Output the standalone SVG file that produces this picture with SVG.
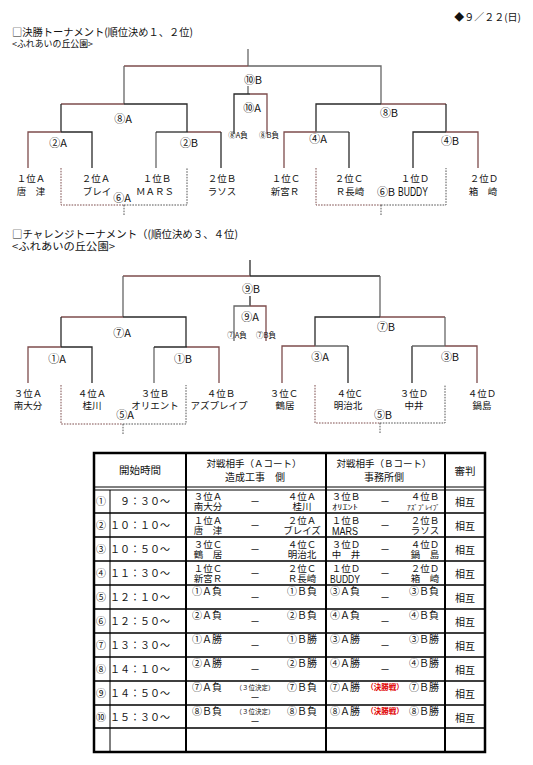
<svg xmlns="http://www.w3.org/2000/svg" width="533" height="765" viewBox="0 0 533 765">
<style>
text{font-family:"Noto Sans CJK JP","Noto Sans",sans-serif;fill:#111}
.m{text-anchor:middle}
.e{text-anchor:end}
.f10{font-size:10px}
.f9{font-size:9.5px}
.f11{font-size:10.5px}
.lb{font-size:11px}
.sm{font-size:7.5px}
.xs{font-size:6.5px}
.nar{font-family:"Liberation Sans Narrow","Liberation Sans",sans-serif}
.br{stroke:#7d4c4c;stroke-width:1.3;fill:none}
.dk{stroke:#2a2a2a;stroke-width:1.3;fill:none}
.gr{stroke:#666;stroke-width:1.3;fill:none}
.dbr{stroke:#7d4c4c;stroke-width:1;stroke-dasharray:1.6 1.2;fill:none}
.dgr{stroke:#555;stroke-width:1;stroke-dasharray:1.6 1.2;fill:none}
.tb{stroke:#000;fill:none}
.red{fill:#e00000;font-weight:bold}
</style>

<g id="header">
<text x="521" y="21" class="f10 e">◆９／２２(日)</text>
<text x="12" y="36" font-size="10.5" textLength="181" lengthAdjust="spacingAndGlyphs">□決勝トーナメント(順位決め１、２位)</text>
<text x="12" y="47" font-size="9" textLength="81" lengthAdjust="spacingAndGlyphs">&lt;ふれあいの丘公園&gt;</text>
<text x="12" y="238" font-size="10.5" textLength="226" lengthAdjust="spacingAndGlyphs">□チャレンジトーナメント（(順位決め３、４位)</text>
<text x="12" y="250" font-size="10.5" textLength="103" lengthAdjust="spacingAndGlyphs">&lt;ふれあいの丘公園&gt;</text>
</g>

<g id="connectors">
<!-- bracket 1 -->
<path class="gr" d="M248 49V66"/>
<path class="br" d="M124 66H248"/>
<path class="gr" d="M248 66H381V104M124 66V104"/>
<path class="gr" d="M248 86V94"/>
<path class="dk" d="M234 134V94H250"/>
<path class="br" d="M250 94H267V134"/>
<path class="br" d="M61 104H124"/>
<path class="dk" d="M124 104H187V132M61 104V132"/>
<path class="br" d="M28 168V132H61"/>
<path class="dk" d="M61 132H92V168"/>
<path class="gr" d="M156 168V132"/>
<path class="dk" d="M156 132H188"/>
<path class="br" d="M188 132H221"/>
<path class="dk" d="M221 132V168"/>
<path class="dk" d="M316 132V104H381"/>
<path class="br" d="M381 104H446"/>
<path class="dk" d="M446 104V132"/>
<path class="br" d="M284 168V132H316"/>
<path class="gr" d="M316 132H349"/>
<path class="dk" d="M349 132V168"/>
<path class="dk" d="M413 168V132H446"/>
<path class="br" d="M446 132H478V168"/>
<path class="dbr" d="M61 168V205H124"/>
<path class="dgr" d="M124 205H187V168M124 205V215"/>
<path class="dbr" d="M316 168V205H381"/>
<path class="dgr" d="M381 205H446V168M381 205V215"/>
<!-- bracket 2 -->
<path class="dk" d="M250 260V276"/>
<path class="br" d="M123 276H250"/>
<path class="dk" d="M250 276H380"/>
<path class="gr" d="M123 276V317M380 276V317"/>
<path class="dk" d="M250 296V306"/>
<path class="gr" d="M234 341V306H250"/>
<path class="br" d="M250 306H266V341"/>
<path class="br" d="M61 317H123"/>
<path class="dk" d="M123 317H186V347M61 317V347"/>
<path class="br" d="M28 383V347H61"/>
<path class="dk" d="M61 347H92V383"/>
<path class="gr" d="M154 383V347"/>
<path class="dk" d="M154 347H187"/>
<path class="br" d="M187 347H219V383"/>
<path class="dk" d="M315 346V317H380"/>
<path class="br" d="M380 317H445"/>
<path class="gr" d="M445 317V346"/>
<path class="br" d="M282 383V346H315"/>
<path class="gr" d="M315 346H348"/>
<path class="dk" d="M348 346V383"/>
<path class="dk" d="M412 383V346"/>
<path class="gr" d="M412 346H445"/>
<path class="br" d="M445 346H477V383"/>
<path class="dbr" d="M61 385V424H123"/>
<path class="dgr" d="M123 424H186V385M123 424V435"/>
<path class="dbr" d="M315 385V423H380"/>
<path class="dgr" d="M380 423H445V385M380 423V434"/>
</g>

<!-- bracket 1 labels -->
<g id="m10B"><text x="253" y="83.5" class="lb m">⑩B</text></g>
<g id="m10A"><text x="252" y="111.5" class="lb m">⑩A</text></g>
<g id="m10A-src"><text x="238" y="138" class="sm m">⑧A負</text></g>
<g id="m10A-src2"><text x="269" y="138" class="sm m">⑧B負</text></g>
<g id="m8A"><text x="123" y="122.5" class="lb m">⑧A</text></g>
<g id="m8B"><text x="389" y="116.5" class="lb m">⑧B</text></g>
<g id="m2A"><text x="58" y="146.5" class="lb m">②A</text></g>
<g id="m2B"><text x="189" y="146.5" class="lb m">②B</text></g>
<g id="m4A"><text x="318" y="142.5" class="lb m">④A</text></g>
<g id="m4B"><text x="450" y="145" class="lb m">④B</text></g>
<g id="m6A"><text x="122" y="202" class="lb m">⑥A</text></g>
<g id="m6B"><text x="386" y="196" class="lb m">⑥B</text></g>
<g id="t1A"><text x="31" y="182" class="f9 m">１位Ａ</text><text x="31" y="195" class="f9 m">唐　津</text></g>
<g id="t2A"><text x="96" y="182" class="f9 m">２位Ａ</text><text x="97" y="195" class="f9 m">ブレイ</text></g>
<g id="t1B"><text x="157" y="182" class="f9 m">１位Ｂ</text><text x="155" y="195" class="f9 m">ＭＡＲＳ</text></g>
<g id="t2B"><text x="222" y="182" class="f9 m">２位Ｂ</text><text x="222" y="195" class="f9 m">ラソス</text></g>
<g id="t1C"><text x="286" y="182" class="f9 m">１位Ｃ</text><text x="285" y="195" class="f9 m">新宮Ｒ</text></g>
<g id="t2C"><text x="349" y="182" class="f9 m">２位Ｃ</text><text x="350" y="195" class="f9 m">Ｒ長崎</text></g>
<g id="t1D"><text x="415" y="182" class="f9 m">１位Ｄ</text><text x="398" y="196" font-size="12" class="nar" textLength="30" lengthAdjust="spacingAndGlyphs">BUDDY</text></g>
<g id="t2D"><text x="484" y="182" class="f9 m">２位Ｄ</text><text x="483" y="195" class="f9 m">箱　崎</text></g>

<!-- bracket 2 labels -->
<g id="m9B"><text x="251" y="292.5" class="lb m">⑨B</text></g>
<g id="m9A"><text x="250" y="321" class="lb m">⑨A</text></g>
<g id="m9A-src"><text x="237" y="337.5" class="sm m">⑦A負</text></g>
<g id="m9A-src2"><text x="266" y="337.5" class="sm m">⑦B負</text></g>
<g id="m7A"><text x="122" y="337" class="lb m">⑦A</text></g>
<g id="m7B"><text x="386" y="331" class="lb m">⑦B</text></g>
<g id="m1A"><text x="57" y="363" class="lb m">①A</text></g>
<g id="m1B"><text x="183" y="363" class="lb m">①B</text></g>
<g id="m3A"><text x="320" y="361" class="lb m">③A</text></g>
<g id="m3B"><text x="450" y="361" class="lb m">③B</text></g>
<g id="m5A"><text x="125" y="419" class="lb m">⑤A</text></g>
<g id="m5B"><text x="383" y="418.5" class="lb m">⑤B</text></g>
<g id="t3A"><text x="28" y="396.5" class="f9 m">３位Ａ</text><text x="28" y="408.5" class="f9 m">南大分</text></g>
<g id="t4A"><text x="92" y="396.5" class="f9 m">４位Ａ</text><text x="92" y="408.5" class="f9 m">桂川</text></g>
<g id="t3B"><text x="155" y="396.5" class="f9 m">３位Ｂ</text><text x="155" y="408.5" class="f9 m">オリエント</text></g>
<g id="t4B"><text x="221" y="396.5" class="f9 m">４位Ｂ</text><text x="219" y="408.5" class="f9 m">アズプレイプ</text></g>
<g id="t3C"><text x="284" y="396.5" class="f9 m">３位Ｃ</text><text x="285" y="408.5" class="f9 m">鶴居</text></g>
<g id="t4C"><text x="349" y="396.5" class="f9 m">４位C</text><text x="348" y="408.5" class="f9 m">明治北</text></g>
<g id="t3D"><text x="414" y="396.5" class="f9 m">３位Ｄ</text><text x="414" y="408.5" class="f9 m">中井</text></g>
<g id="t4D"><text x="482" y="396.5" class="f9 m">４位Ｄ</text><text x="482" y="408.5" class="f9 m">鍋島</text></g>

<!-- schedule table -->
<g id="table">
<rect x="94" y="453" width="391" height="299" class="tb" stroke-width="2.5"/>
<path class="tb" stroke-width="1" d="M94 487H485M94 490H485"/>
<path class="tb" stroke-width="1.3" d="M94 513H485M94 537H485M94 561H485M94 585H485M94 609H485M94 633H485M94 657H485M94 681H485M94 705H485M94 728H485"/>
<path class="tb" stroke-width="1" d="M110 490V752"/>
<path class="tb" stroke-width="2" d="M186 453V752M326 453V752M445 453V752"/>

<text x="140" y="474" class="f11 m">開始時間</text>
<text x="254" y="467" class="f9 m">対戦相手（Ａコート）</text>
<text x="255" y="481" class="f10 m">造成工事　側</text>
<text x="384" y="467" class="f9 m">対戦相手（Ｂコート）</text>
<text x="384" y="481" class="f10 m">事務所側</text>
<text x="465" y="475" class="f11 m">審判</text>

<g class="f10">
<text x="101" y="505" class="m">①</text><text x="101" y="529" class="m">②</text><text x="101" y="553" class="m">③</text><text x="101" y="577" class="m">④</text><text x="101" y="601" class="m">⑤</text>
<text x="101" y="625" class="m">⑥</text><text x="101" y="649" class="m">⑦</text><text x="101" y="673" class="m">⑧</text><text x="101" y="697" class="m">⑨</text><text x="101" y="721" class="m">⑩</text>
<text x="170" y="505" class="e">９：３０～</text><text x="170" y="529" class="e">１０：１０～</text><text x="170" y="553" class="e">１０：５０～</text><text x="170" y="577" class="e">１１：３０～</text><text x="170" y="601" class="e">１２：１０～</text>
<text x="170" y="625" class="e">１２：５０～</text><text x="170" y="649" class="e">１３：３０～</text><text x="170" y="673" class="e">１４：１０～</text><text x="170" y="697" class="e">１４：５０～</text><text x="170" y="721" class="e">１５：３０～</text>
</g>

<g class="f9">
<!-- A court rows 1-4 -->
<text x="208" y="499.8" class="m">３位Ａ</text><text x="208" y="510" class="m">南大分</text><text x="302" y="499.8" class="m">４位Ａ</text><text x="302" y="510" class="m">桂川</text>
<text x="208" y="523.8" class="m">１位Ａ</text><text x="208" y="534" class="m">唐　津</text><text x="302" y="523.8" class="m">２位Ａ</text><text x="302" y="534" class="m">ブレイズ</text>
<text x="208" y="547.8" class="m">３位Ｃ</text><text x="208" y="558" class="m">鶴　居</text><text x="302" y="547.8" class="m">４位Ｃ</text><text x="302" y="558" class="m">明治北</text>
<text x="208" y="571.8" class="m">１位Ｃ</text><text x="208" y="582" class="m">新宮Ｒ</text><text x="302" y="571.8" class="m">２位Ｃ</text><text x="302" y="582" class="m">Ｒ長崎</text>
<!-- B court rows 1-4 -->
<text x="346" y="499.8" class="m">３位Ｂ</text><text x="425" y="499.8" class="m">４位Ｂ</text>
<text x="346" y="523.8" class="m">１位Ｂ</text><text x="425" y="523.8" class="m">２位Ｂ</text><text x="425" y="534" class="m">ラソス</text>
<text x="346" y="547.8" class="m">３位Ｄ</text><text x="346" y="558" class="m">中　井</text><text x="425" y="547.8" class="m">４位Ｄ</text><text x="425" y="558" class="m">鍋　島</text>
<text x="346" y="571.8" class="m">１位Ｄ</text><text x="425" y="571.8" class="m">２位Ｄ</text><text x="425" y="582" class="m">箱　崎</text>
</g>
<g class="f10">
<text x="255" y="505" class="m">－</text><text x="255" y="529" class="m">－</text><text x="255" y="553" class="m">－</text><text x="255" y="577" class="m">－</text>
<text x="385" y="505" class="m">－</text><text x="385" y="529" class="m">－</text><text x="385" y="553" class="m">－</text><text x="385" y="577" class="m">－</text>
<!-- A court rows 5-10 -->
<text x="207" y="595" class="m">①Ａ負</text><text x="302" y="595" class="m">①Ｂ負</text><text x="255" y="601" class="m">－</text>
<text x="207" y="619" class="m">②Ａ負</text><text x="302" y="619" class="m">②Ｂ負</text><text x="255" y="625" class="m">－</text>
<text x="207" y="643" class="m">①Ａ勝</text><text x="302" y="643" class="m">①Ｂ勝</text><text x="255" y="649" class="m">－</text>
<text x="207" y="667" class="m">②Ａ勝</text><text x="302" y="667" class="m">②Ｂ勝</text><text x="255" y="673" class="m">－</text>
<text x="207" y="691" class="m">⑦Ａ負</text><text x="302" y="691" class="m">⑦Ｂ負</text><text x="255" y="701" class="m">－</text>
<text x="207" y="715" class="m">⑧Ｂ負</text><text x="302" y="715" class="m">⑧Ｂ負</text><text x="255" y="725" class="m">－</text>
<!-- B court rows 5-10 -->
<text x="345" y="595" class="m">③Ａ負</text><text x="424" y="595" class="m">③Ｂ負</text><text x="385" y="601" class="m">－</text>
<text x="345" y="619" class="m">④Ａ負</text><text x="424" y="619" class="m">④Ｂ負</text><text x="385" y="625" class="m">－</text>
<text x="345" y="643" class="m">③Ａ勝</text><text x="424" y="643" class="m">③Ｂ勝</text><text x="385" y="649" class="m">－</text>
<text x="345" y="667" class="m">④Ａ勝</text><text x="424" y="667" class="m">④Ｂ勝</text><text x="385" y="673" class="m">－</text>
<text x="345" y="691" class="m">⑦Ａ勝</text><text x="424" y="691" class="m">⑦Ｂ勝</text>
<text x="345" y="715" class="m">⑧Ａ勝</text><text x="424" y="715" class="m">⑧Ｂ勝</text>
<!-- referee -->
<text x="465" y="506" class="m">相互</text><text x="465" y="530" class="m">相互</text><text x="465" y="554" class="m">相互</text><text x="465" y="578" class="m">相互</text><text x="465" y="602" class="m">相互</text>
<text x="465" y="626" class="m">相互</text><text x="465" y="650" class="m">相互</text><text x="465" y="674" class="m">相互</text><text x="465" y="698" class="m">相互</text><text x="465" y="722" class="m">相互</text>
</g>
<text x="332" y="510" font-size="7.5" textLength="26" lengthAdjust="spacingAndGlyphs">ｵﾘｴﾝﾄ</text>
<text x="407" y="510" font-size="6.5" textLength="33" lengthAdjust="spacingAndGlyphs">ｱｽﾞﾌﾟﾚｲﾌﾞ</text>
<text x="332" y="535" font-size="11.5" class="nar" textLength="26" lengthAdjust="spacingAndGlyphs">MARS</text>
<text x="330" y="583" font-size="11.5" class="nar" textLength="30" lengthAdjust="spacingAndGlyphs">BUDDY</text>
<text x="255" y="690" class="xs m">（３位決定）</text>
<text x="255" y="714" class="xs m">（３位決定）</text>
<text x="385" y="690" class="sm m red">（決勝戦）</text>
<text x="385" y="714" class="sm m red">（決勝戦）</text>
</g>
</svg>
